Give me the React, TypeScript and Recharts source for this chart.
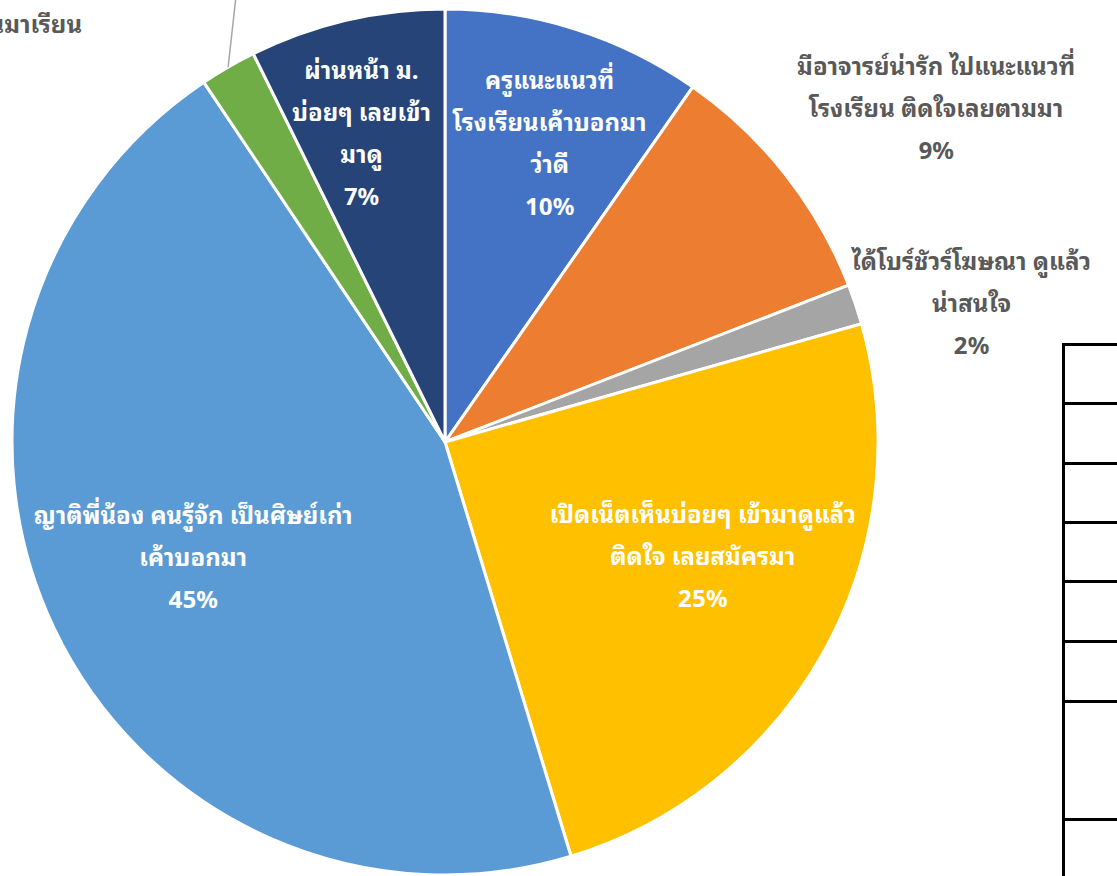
import { PieChart, Pie, Cell } from "recharts";

const categories = [
  "ครูแนะแนวที่\nโรงเรียนเค้าบอกมา\nว่าดี",
  "มีอาจารย์น่ารัก ไปแนะแนวที่\nโรงเรียน ติดใจเลยตามมา",
  "ได้โบร์ชัวร์โฆษณา ดูแล้ว\nน่าสนใจ",
  "เปิดเน็ตเห็นบ่อยๆ เข้ามาดูแล้ว\nติดใจ เลยสมัครมา",
  "ญาติพี่น้อง คนรู้จัก เป็นศิษย์เก่า\nเค้าบอกมา",
  "เพื่อนชวนมาเรียน",
  "ผ่านหน้า ม.\nบ่อยๆ เลยเข้า\nมาดู",
];
const shares = [9.7, 9.4, 1.5, 24.7, 45.3, 2.1, 7.3];

const colors = ["#4472C4", "#ED7D31", "#A5A5A5", "#FFC000", "#5B9BD5", "#70AD47", "#264478"];
// label placement: inside?, radius, angle nudge (degrees clockwise)
const labelInside = [true, false, false, true, true, false, true];
const labelRadius = [319, 595, 545, 281, 276, 0, 322];
const labelNudge = [1.7, 3.8, 3.6, -5.2, 1.2, 0, -1.9];

const data = categories.map((name, i) => ({ name, value: shares[i] }));

const FONT = "'Leelawadee UI', Tahoma, 'Noto Sans Thai Looped', 'Noto Sans', 'Noto Sans Thai', sans-serif";
const FONT_SIZE = 24;
const LINE_H = 42;

function renderLabel(props: any) {
  const { cx, cy, midAngle, outerRadius, index, percent, name } = props;
  const pct = `${Math.round(percent * 100)}%`;
  if (index === 5) {
    const rad = (midAngle * Math.PI) / 180;
    const ex = cx + outerRadius * Math.cos(rad);
    const ey = cy - outerRadius * Math.sin(rad);
    return (
      <g>
        <line x1={ex} y1={ey} x2={ex + 10} y2={ey - 90} stroke="#A6A6A6" strokeWidth={1.5} />
        <text
          x={ex - 146}
          y={ey - 45}
          textAnchor="end"
          dominantBaseline="central"
          fill="#595959"
          fontSize={FONT_SIZE}
          fontWeight="bold"
          fontFamily={FONT}
        >
          {name}
        </text>
      </g>
    );
  }
  const theta = ((midAngle - labelNudge[index]) * Math.PI) / 180;
  const r = labelRadius[index];
  const x = cx + r * Math.cos(theta);
  const y = cy - r * Math.sin(theta);
  const lines = [...String(name).split("\n"), pct];
  const y0 = y - ((lines.length - 1) * LINE_H) / 2;
  return (
    <text
      x={x}
      y={y0}
      textAnchor="middle"
      dominantBaseline="central"
      fill={labelInside[index] ? "#FFFFFF" : "#595959"}
      fontSize={FONT_SIZE}
      fontWeight="bold"
      fontFamily={FONT}
    >
      {lines.map((l, i) => (
        <tspan key={i} x={x} y={y0 + i * LINE_H}>
          {l}
        </tspan>
      ))}
    </text>
  );
}

const tableRows = [344, 403, 463, 522, 581, 641, 701, 819];

export default function App() {
  return (
    <div style={{ position: "fixed", left: 0, top: 0, width: 1117, height: 876, overflow: "hidden", background: "#fff" }}>
      <PieChart width={1117} height={876} margin={{ top: 0, right: 0, bottom: 0, left: 0 }}>
        <Pie
          data={data}
          dataKey="value"
          nameKey="name"
          cx={445}
          cy={442}
          outerRadius={433}
          startAngle={90}
          endAngle={-270}
          stroke="#FFFFFF"
          strokeWidth={3}
          label={renderLabel}
          labelLine={false}
          isAnimationActive={false}
        >
          {data.map((d, i) => (
            <Cell key={d.name} fill={colors[i]} />
          ))}
        </Pie>
      </PieChart>
      <div
        style={{
          position: "absolute",
          left: 1062,
          top: 343,
          width: 60,
          height: 540,
          borderLeft: "3px solid #000",
        }}
      />
      {tableRows.map((y) => (
        <div
          key={y}
          style={{ position: "absolute", left: 1062, top: y - 1, width: 60, height: 0, borderTop: "3px solid #000" }}
        />
      ))}
    </div>
  );
}
